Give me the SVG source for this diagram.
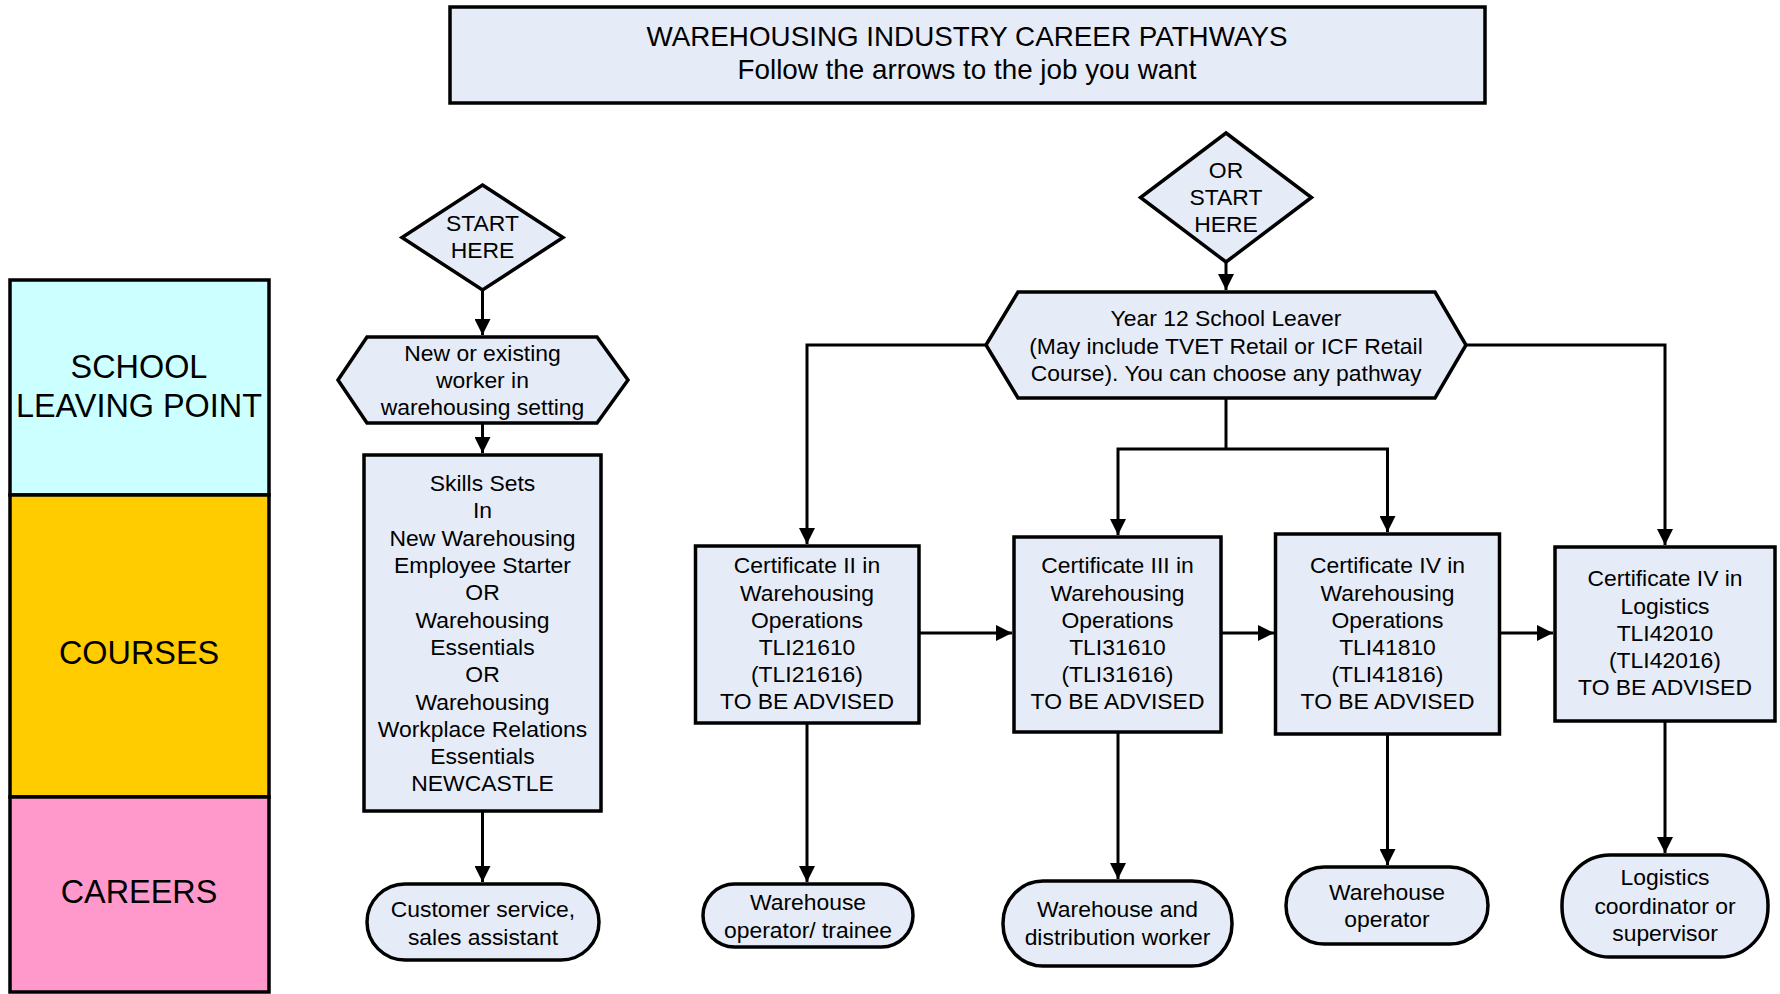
<svg xmlns="http://www.w3.org/2000/svg" width="1780" height="994" viewBox="0 0 1780 994">
<style>
text{font-family:"Liberation Sans",Arial,sans-serif;fill:#000;text-anchor:middle}
.n{font-size:22.9px}
.t{font-size:27.8px}
.b{font-size:32.4px}
.shape{fill:#E6ECF7;stroke:#000;stroke-width:3.5}
.band{stroke:#000;stroke-width:3.5}
.c{fill:none;stroke:#000;stroke-width:3;marker-end:url(#ah)}
.l{fill:none;stroke:#000;stroke-width:3}
</style>
<defs>
<marker id="ah" markerUnits="userSpaceOnUse" markerWidth="16" markerHeight="16" refX="16" refY="8" orient="auto">
<path d="M0,0 L16,8 L0,16 z" fill="#000"/>
</marker>
</defs>
<rect width="1780" height="994" fill="#fff"/>

<g id="title">
<rect class="shape" x="450" y="7" width="1035" height="96" stroke-width="3"/>
<text class="t" x="967" y="46">WAREHOUSING INDUSTRY CAREER PATHWAYS</text>
<text class="t" x="967" y="79">Follow the arrows to the job you want</text>
</g>

<g id="band-school">
<rect class="band" x="10" y="280" width="259" height="215" fill="#CCFFFF"/>
<text class="b" x="139" y="378">SCHOOL</text>
<text class="b" x="139" y="417">LEAVING POINT</text>
</g>
<g id="band-courses">
<rect class="band" x="10" y="495" width="259" height="302" fill="#FFCC00"/>
<text class="b" x="139" y="664">COURSES</text>
</g>
<g id="band-careers">
<rect class="band" x="10" y="797" width="259" height="195" fill="#FF99CC"/>
<text class="b" x="139" y="903">CAREERS</text>
</g>

<g id="connectors">
<path class="c" d="M482.5,290 V335"/>
<path class="c" d="M482.5,423 V453"/>
<path class="c" d="M482.5,811 V882"/>
<path class="c" d="M1226,262 V290"/>
<path class="c" d="M986,345 H807 V544"/>
<path class="c" d="M1466,345 H1665 V545"/>
<path class="l" d="M1226,398 V449"/>
<path class="c" d="M1226,449 H1118 V535"/>
<path class="c" d="M1226,449 H1387.5 V532"/>
<path class="c" d="M919,633 H1012"/>
<path class="c" d="M1221,633 H1274"/>
<path class="c" d="M1500,633 H1553"/>
<path class="c" d="M807,723 V882"/>
<path class="c" d="M1118,732 V879"/>
<path class="c" d="M1387.5,734 V865"/>
<path class="c" d="M1665,721 V853"/>
</g>

<g id="start-here">
<polygon class="shape" points="482.5,185 563,237.5 482.5,290 402,237.5"/>
<text class="n" x="482.5" y="231">START</text>
<text class="n" x="482.5" y="258">HERE</text>
</g>

<g id="new-worker">
<polygon class="shape" points="338,380 367,337 597,337 628,380 597,423 367,423"/>
<text class="n" x="482.5" y="361">New or existing</text>
<text class="n" x="482.5" y="388">worker in</text>
<text class="n" x="482.5" y="415">warehousing setting</text>
</g>

<g id="skills-sets">
<rect class="shape" x="364" y="455" width="237" height="356"/>
<text class="n" x="482.5" y="491">Skills Sets</text>
<text class="n" x="482.5" y="518">In</text>
<text class="n" x="482.5" y="546">New Warehousing</text>
<text class="n" x="482.5" y="573">Employee Starter</text>
<text class="n" x="482.5" y="600">OR</text>
<text class="n" x="482.5" y="628">Warehousing</text>
<text class="n" x="482.5" y="655">Essentials</text>
<text class="n" x="482.5" y="682">OR</text>
<text class="n" x="482.5" y="710">Warehousing</text>
<text class="n" x="482.5" y="737">Workplace Relations</text>
<text class="n" x="482.5" y="764">Essentials</text>
<text class="n" x="482.5" y="791">NEWCASTLE</text>
</g>

<g id="customer-service">
<rect class="shape" x="367" y="884" width="232" height="76" rx="38" ry="38"/>
<text class="n" x="483" y="917">Customer service,</text>
<text class="n" x="483" y="945">sales assistant</text>
</g>

<g id="or-start-here">
<polygon class="shape" points="1226,133 1311.5,197.5 1226,262 1140.5,197.5"/>
<text class="n" x="1226" y="178">OR</text>
<text class="n" x="1226" y="205">START</text>
<text class="n" x="1226" y="232">HERE</text>
</g>

<g id="year12">
<polygon class="shape" points="986,345 1018,292 1435,292 1466,345 1435,398 1018,398"/>
<text class="n" x="1226" y="326">Year 12 School Leaver</text>
<text class="n" x="1226" y="354">(May include TVET Retail or ICF Retail</text>
<text class="n" x="1226" y="381">Course). You can choose any pathway</text>
</g>

<g id="cert2">
<rect class="shape" x="695.5" y="546" width="223.5" height="177"/>
<text class="n" x="807" y="573">Certificate II in</text>
<text class="n" x="807" y="600.5">Warehousing</text>
<text class="n" x="807" y="628">Operations</text>
<text class="n" x="807" y="655">TLI21610</text>
<text class="n" x="807" y="682">(TLI21616)</text>
<text class="n" x="807" y="709">TO BE ADVISED</text>
</g>

<g id="cert3">
<rect class="shape" x="1014" y="537" width="207" height="195"/>
<text class="n" x="1117.5" y="573">Certificate III in</text>
<text class="n" x="1117.5" y="600.5">Warehousing</text>
<text class="n" x="1117.5" y="628">Operations</text>
<text class="n" x="1117.5" y="655">TLI31610</text>
<text class="n" x="1117.5" y="682">(TLI31616)</text>
<text class="n" x="1117.5" y="709">TO BE ADVISED</text>
</g>

<g id="cert4w">
<rect class="shape" x="1275.5" y="534" width="224" height="200"/>
<text class="n" x="1387.5" y="573">Certificate IV in</text>
<text class="n" x="1387.5" y="600.5">Warehousing</text>
<text class="n" x="1387.5" y="628">Operations</text>
<text class="n" x="1387.5" y="655">TLI41810</text>
<text class="n" x="1387.5" y="682">(TLI41816)</text>
<text class="n" x="1387.5" y="709">TO BE ADVISED</text>
</g>

<g id="cert4l">
<rect class="shape" x="1555" y="547" width="220" height="174"/>
<text class="n" x="1665" y="586">Certificate IV in</text>
<text class="n" x="1665" y="613.5">Logistics</text>
<text class="n" x="1665" y="641">TLI42010</text>
<text class="n" x="1665" y="668">(TLI42016)</text>
<text class="n" x="1665" y="695">TO BE ADVISED</text>
</g>

<g id="career-trainee">
<rect class="shape" x="703" y="884" width="210" height="63" rx="31.5" ry="31.5"/>
<text class="n" x="808" y="910">Warehouse</text>
<text class="n" x="808" y="938">operator/ trainee</text>
</g>

<g id="career-distribution">
<rect class="shape" x="1003" y="881" width="229" height="85" rx="40" ry="42"/>
<text class="n" x="1117.5" y="917">Warehouse and</text>
<text class="n" x="1117.5" y="944.5">distribution worker</text>
</g>

<g id="career-operator">
<rect class="shape" x="1286" y="867" width="202" height="77" rx="38" ry="38.5"/>
<text class="n" x="1387" y="899.5">Warehouse</text>
<text class="n" x="1387" y="927">operator</text>
</g>

<g id="career-logistics">
<rect class="shape" x="1562" y="855" width="206" height="102" rx="48" ry="50"/>
<text class="n" x="1665" y="885">Logistics</text>
<text class="n" x="1665" y="913.5">coordinator or</text>
<text class="n" x="1665" y="940.5">supervisor</text>
</g>
</svg>
